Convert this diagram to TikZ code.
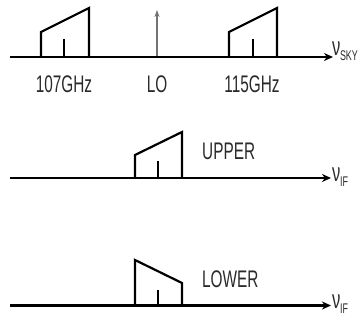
\documentclass[tikz,border=0pt]{standalone}
\usepackage{fontspec}
\setmainfont{Liberation Sans}[FakeStretch=0.64]
\usetikzlibrary{arrows.meta}
\definecolor{txt}{HTML}{2A2A2A}
\tikzset{
  axis/.style={line width=2.6pt,-{Stealth[length=9pt,width=8pt]}},
  band/.style={line width=2.2pt,line join=miter},
  tick/.style={line width=2.2pt},
  lo/.style={line width=1.2pt,draw=black!55,-{Stealth[length=7pt,width=5pt,fill=black]}},
  lbl/.style={text=txt,inner sep=0pt,font=\fontsize{24}{24}\selectfont},
  nu/.style={text=txt,inner sep=0pt,anchor=base west},
}
\newcommand{\nusub}[1]{{\fontsize{26}{26}\selectfont ν}\kern-0.5pt\raisebox{-5pt}{\fontsize{14}{14}\selectfont #1}}
\begin{document}
\begin{tikzpicture}[x=1pt,y=-1pt]
\useasboundingbox (0,0) rectangle (359,320);
% top row
\coordinate (s0) at (10,57);
\coordinate (s1) at (333,57);
\draw[axis] (s0) -- (s1);
\node[nu] (nusky) at (332,56) {\nusub{SKY}};
\draw[band] (41,57) -- (41,32) -- (89,8) -- (89,57);
\draw[tick] (64,57) -- (64,39);
\draw[band] (229,57) -- (229,32) -- (277,8) -- (277,57);
\draw[tick] (253,57) -- (253,39);
\coordinate (lo0) at (157,56);
\coordinate (lo1) at (157,10);
\draw[lo] (lo0) -- (lo1);
\node[lbl] (l107) at (64,84) {107GHz};
\node[lbl] (llo) at (157,84) {LO};
\node[lbl] (l115) at (252,84) {115GHz};
% middle row
\coordinate (u0) at (10,178);
\coordinate (u1) at (331,178);
\draw[axis] (u0) -- (u1);
\node[nu] (nuif1) at (332,182) {\nusub{IF}};
\draw[band] (135,178) -- (135,155) -- (182,132) -- (182,178);
\draw[tick] (158,178) -- (158,161);
\node[lbl,anchor=west] (upper) at (202,151) {UPPER};
% bottom row
\coordinate (d0) at (10,305.5);
\coordinate (d1) at (331,305.5);
\draw[axis,line width=3.4pt] (d0) -- (d1);
\node[nu] (nuif2) at (332,309) {\nusub{IF}};
\draw[band] (135,305) -- (135,260) -- (182,283) -- (182,305);
\draw[tick] (158,305) -- (158,290);
\node[lbl,anchor=west] (lower) at (202,279) {LOWER};
\end{tikzpicture}
\end{document}
